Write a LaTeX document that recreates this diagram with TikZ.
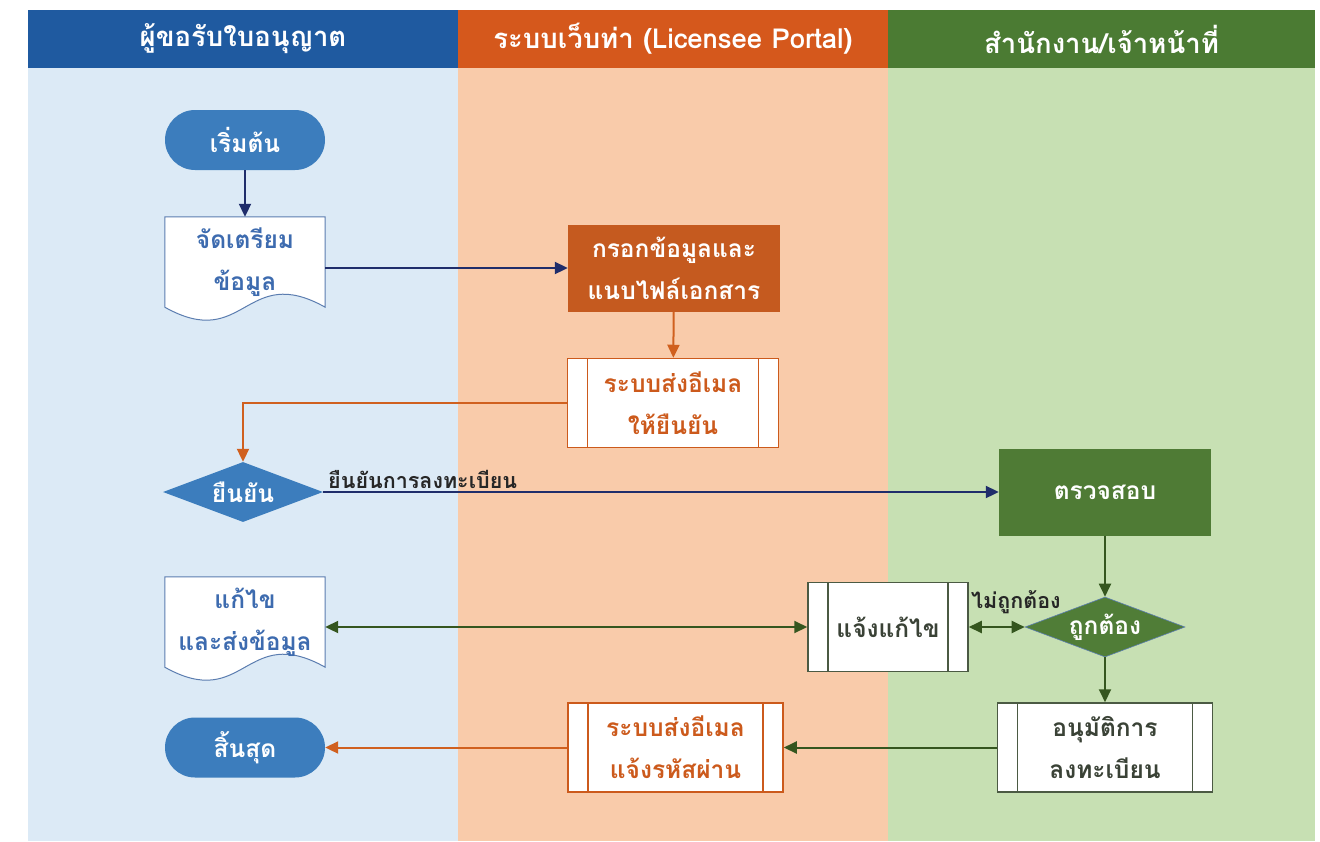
\documentclass[tikz,border=0pt]{standalone}
\usepackage{fontspec}
\newfontfamily\thai[Script=Thai]{Loma}
\usetikzlibrary{arrows.meta,shapes.geometric,calc}
\pgfdeclarelayer{lanes}\pgfdeclarelayer{docs}
\pgfsetlayers{lanes,docs,main}
\definecolor{hdrBlue}{HTML}{1F5AA0}
\definecolor{hdrOrange}{HTML}{D5581C}
\definecolor{hdrGreen}{HTML}{4B7B33}
\definecolor{laneBlue}{HTML}{DCEAF6}
\definecolor{lanePeach}{HTML}{F9CBAA}
\definecolor{laneGreen}{HTML}{C7E0B3}
\definecolor{nodeBlue}{HTML}{3C7DBD}
\definecolor{fillOrange}{HTML}{C55A1F}
\definecolor{checkGreen}{HTML}{4F7B35}
\definecolor{decGreen}{HTML}{507D37}
\definecolor{navy}{HTML}{1F2D6B}
\definecolor{arrOrange}{HTML}{D0601F}
\definecolor{arrGreen}{HTML}{35561F}
\definecolor{docText}{HTML}{3D6BAF}
\definecolor{docBorder}{HTML}{5B7DB0}
\definecolor{emailOr}{HTML}{CC5A1C}
\definecolor{procGrey}{HTML}{4B5A43}
\definecolor{procText}{HTML}{3A4236}
\definecolor{labelDark}{HTML}{262626}
\tikzset{
 base/.style={font=\thai\bfseries\fontsize{24.5}{42}\selectfont, align=center, inner sep=0pt},
 hdr/.style={base, text=white, minimum height=58pt, font=\thai\bfseries\fontsize{27.5}{30}\selectfont},
 pill/.style={base, fill=nodeBlue, text=white, rounded corners=30pt, minimum width=160pt, minimum height=60pt},
 docnode/.style={base, text=docText, minimum width=160pt, minimum height=90pt},
 docshape/.style={draw=docBorder, fill=white, line width=1pt},
 procbox/.style={base, text=white, minimum width=212pt, minimum height=87pt},
 predef/.style={base, draw=#1, fill=white, line width=1.5pt, minimum height=89pt,
   path picture={\draw[#1, line width=1.2pt]
     ([xshift=20pt]path picture bounding box.north west) -- ([xshift=20pt]path picture bounding box.south west)
     ([xshift=-20pt]path picture bounding box.north east) -- ([xshift=-20pt]path picture bounding box.south east);}},
 dec/.style={base, diamond, aspect=2.7, text=white, minimum width=160pt, minimum height=60pt},
 conn/.style={line width=2pt, -{Triangle[length=13pt,width=12pt]}},
 dconn/.style={line width=2pt, {Triangle[length=13pt,width=12pt]}-{Triangle[length=13pt,width=12pt]}},
 lbl/.style={font=\thai\bfseries\fontsize{21.5}{24}\selectfont, inner sep=1pt, text=labelDark},
}
\begin{document}
\begin{tikzpicture}[x=1pt,y=-1pt]
\useasboundingbox (0,0) rectangle (1320,841);
\begin{pgfonlayer}{lanes}
\fill[white] (0,0) rectangle (1320,841);
\fill[laneBlue] (28,68) rectangle (458,841);
\fill[lanePeach] (458,68) rectangle (888,841);
\fill[laneGreen] (888,68) rectangle (1315,841);
\end{pgfonlayer}
% headers
\node[hdr, fill=hdrBlue, minimum width=430pt] (h1) at (243,39) {ผู้ขอรับใบอนุญาต};
\node[hdr, fill=hdrOrange, minimum width=430pt] (h2) at (673,39) {ระบบเว็บท่า (Licensee Portal)};
\node[hdr, fill=hdrGreen, minimum width=427pt] (h3) at (1101.5,39) {สำนักงาน/เจ้าหน้าที่};
% nodes
\node[pill] (start) at (245,140) {เริ่มต้น};
\node[docnode] (prep) at (245,262) {จัดเตรียม\\ข้อมูล};
\node[procbox, fill=fillOrange] (fill) at (674,268) {กรอกข้อมูลและ\\แนบไฟล์เอกสาร};
\node[predef=emailOr, text=emailOr, minimum width=211pt] (email1) at (673,403) {ระบบส่งอีเมล\\ให้ยืนยัน};
\node[dec, fill=nodeBlue] (confirm) at (243,492) {ยืนยัน};
\node[procbox, fill=checkGreen] (check) at (1105,492) {ตรวจสอบ};
\node[dec, fill=decGreen, draw=docBorder, line width=0.6pt] (correct) at (1105,627) {ถูกต้อง};
\node[predef=procGrey, text=procText, minimum width=160pt] (notify) at (888,627) {แจ้งแก้ไข};
\node[docnode] (fixdoc) at (245,622) {แก้ไข\\และส่งข้อมูล};
\node[predef=procGrey, text=procText, minimum width=215pt] (approve) at (1105,747.5) {อนุมัติการ\\ลงทะเบียน};
\node[predef=emailOr, text=emailOr, minimum width=215pt] (email2) at (675.5,747.5) {ระบบส่งอีเมล\\แจ้งรหัสผ่าน};
\node[pill] (end) at (245,747.5) {สิ้นสุด};
% document shapes
\begin{pgfonlayer}{docs}
\path[docshape] (prep.north west) -- (prep.north east) -- (prep.south east)
  .. controls ($(prep.south)+(0,-45)$) and ($(prep.south)+(0,45)$) .. (prep.south west) -- cycle;
\path[docshape] (fixdoc.north west) -- (fixdoc.north east) -- (fixdoc.south east)
  .. controls ($(fixdoc.south)+(0,-45)$) and ($(fixdoc.south)+(0,45)$) .. (fixdoc.south west) -- cycle;
\end{pgfonlayer}
% labels
\node[lbl, anchor=west] (lab1) at (327,479) {ยืนยันการลงทะเบียน};
\node[lbl, anchor=west] (lab2) at (970,602) {ไม่ถูกต้อง};
% connectors
\draw[conn, navy] (start) -- (prep);
\draw[conn, navy] (prep.east |- fill.west) -- (fill.west);
\draw[conn, arrOrange] (fill) -- (email1);
\draw[conn, arrOrange] (email1.west) -| (confirm.north);
\draw[conn, navy] (confirm.east) -- (check.west);
\draw[conn, arrGreen] (check) -- (correct);
\draw[dconn, arrGreen] (correct.west) -- (notify.east);
\draw[dconn, arrGreen] (notify.west) -- (fixdoc.east |- notify.west);
\draw[conn, arrGreen] (correct) -- (approve);
\draw[conn, arrGreen] (approve) -- (email2);
\draw[conn, arrOrange] (email2) -- (end);
\end{tikzpicture}
\end{document}
